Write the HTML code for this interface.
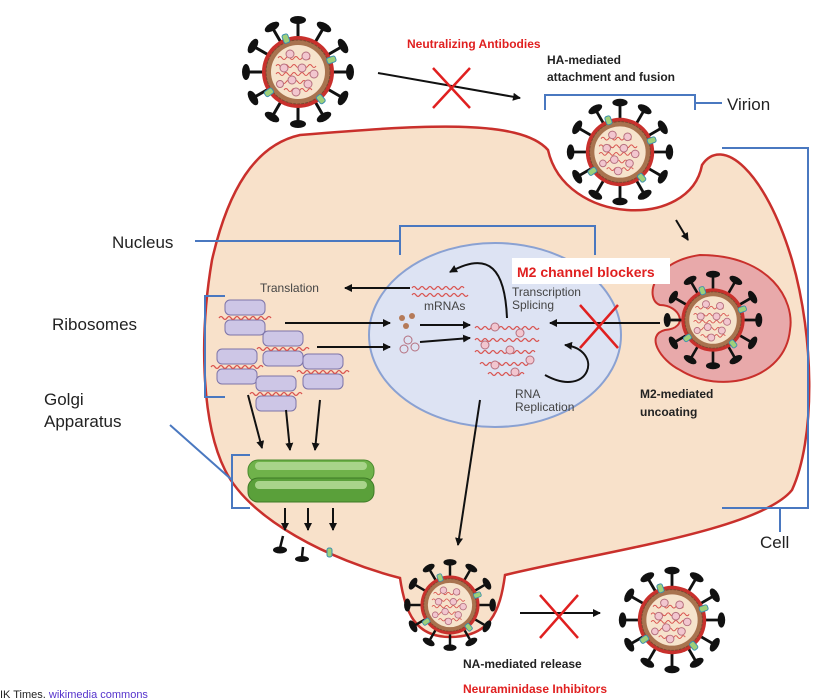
<!DOCTYPE html>
<html><head><style>
body{margin:0;background:#fff;}
svg{display:block;font-family:"Liberation Sans",sans-serif;}
</style></head><body>
<svg width="840" height="698" viewBox="0 0 840 698">
<defs>
<marker id="ah" markerWidth="8" markerHeight="8" refX="7" refY="4" orient="auto" markerUnits="userSpaceOnUse"><path d="M0,0 L8,4 L0,8 Z" fill="#111"/></marker>
<g id="spk">
<line x1="0" y1="-32" x2="0" y2="-51" stroke="#111" stroke-width="3"/>
<ellipse cx="0" cy="-52" rx="8" ry="4" fill="#111"/>
</g>
<g id="core">
<circle r="36" fill="#c9302c"/>
<circle r="32" fill="#a8734f" stroke="#7a4a30" stroke-width="1" stroke-dasharray="3 1"/>
<circle r="27" fill="#f6e3cc"/>
<g fill="none" stroke="#d9534f" stroke-width="1">
<path d="M-20,-14 q2,-3 4,0 t4,0 t4,0 t4,0 t4,0 t4,0 t4,0 t4,0"/>
<path d="M-22,-6 q2,-3 4,0 t4,0 t4,0 t4,0 t4,0 t4,0 t4,0 t4,0 t4,0 t4,0"/>
<path d="M-22,2 q2,-3 4,0 t4,0 t4,0 t4,0 t4,0 t4,0 t4,0 t4,0 t4,0 t4,0"/>
<path d="M-20,10 q2,-3 4,0 t4,0 t4,0 t4,0 t4,0 t4,0 t4,0 t4,0"/>
<path d="M-14,18 q2,-3 4,0 t4,0 t4,0 t4,0 t4,0 t4,0 t4,0"/>
</g>
<g fill="#f2c6cf" stroke="#b5707f" stroke-width="1">
<circle cx="-8" cy="-18" r="4"/><circle cx="8" cy="-16" r="4"/><circle cx="-14" cy="-4" r="4"/>
<circle cx="4" cy="-4" r="4"/><circle cx="16" cy="2" r="4"/><circle cx="-6" cy="8" r="4"/>
<circle cx="10" cy="12" r="4"/><circle cx="-2" cy="20" r="4"/><circle cx="-18" cy="12" r="3.5"/>
</g>
<g fill="#9fd07a" stroke="#3a8fb0" stroke-width="1">
<rect x="-3" y="-40" width="6" height="9" rx="2" transform="rotate(-20)"/>
<rect x="-3" y="-40" width="6" height="9" rx="2" transform="rotate(70)"/>
<rect x="-3" y="-40" width="6" height="9" rx="2" transform="rotate(140)"/>
<rect x="-3" y="-40" width="6" height="9" rx="2" transform="rotate(235)"/>
</g>
</g>
<g id="vir">
<use href="#spk"/>
<use href="#spk" transform="rotate(30)"/>
<use href="#spk" transform="rotate(60)"/>
<use href="#spk" transform="rotate(90)"/>
<use href="#spk" transform="rotate(120)"/>
<use href="#spk" transform="rotate(150)"/>
<use href="#spk" transform="rotate(180)"/>
<use href="#spk" transform="rotate(210)"/>
<use href="#spk" transform="rotate(240)"/>
<use href="#spk" transform="rotate(270)"/>
<use href="#spk" transform="rotate(300)"/>
<use href="#spk" transform="rotate(330)"/>
<use href="#core"/>
</g>
<g id="rib">
<rect x="-20" y="-18" width="40" height="15" rx="5" fill="#cdc6e6" stroke="#7d74a8"/>
<rect x="-20" y="2" width="40" height="15" rx="5" fill="#cdc6e6" stroke="#7d74a8"/>
<path d="M-26,0 q2,-3 4,0 t4,0 t4,0 t4,0 t4,0 t4,0 t4,0 t4,0 t4,0 t4,0 t4,0 t4,0 t4,0" fill="none" stroke="#d9534f" stroke-width="1.3"/>
</g>
</defs>

<!-- cell -->
<path d="M300,135 C420,125 520,118 548,150 C565,225 690,230 702,165 C722,135 765,170 792,260 C815,340 815,440 792,490 C760,530 600,552 505,575 C500,612 490,637 450,637 C415,637 405,612 400,578 C330,560 250,520 225,470 C200,420 200,330 212,260 C228,190 255,145 300,135 Z" fill="#f8e1ca" stroke="#c9302c" stroke-width="2.5"/>

<!-- nucleus -->
<ellipse cx="495" cy="335" rx="126" ry="92" fill="#dde3f3" stroke="#8aa1d2" stroke-width="2"/>

<!-- blue brackets -->
<g stroke="#4a78c0" stroke-width="2" fill="none">
<path d="M545,110 V95 H695 V110"/><path d="M695,103 H722"/>
<path d="M722,148 H808 V508 H722"/><path d="M780,508 V532"/>
<path d="M195,241 H400"/><path d="M400,255 V226 H595 V255"/>
<path d="M225,296 H205 V397 H225"/><path d="M170,425 L232,480"/>
<path d="M250,455 H232 V508 H250"/>
</g>

<!-- virions -->
<use href="#vir" transform="translate(298,72)"/>
<use href="#vir" transform="translate(620,152) scale(0.95)"/>
<!-- uncoating -->
<path d="M700,255 C770,255 795,300 790,330 C785,380 720,395 680,370 C660,360 645,335 665,330 C690,328 680,305 660,305 C645,300 650,262 700,255 Z" fill="#e8a9aa" stroke="#c9302c" stroke-width="2"/>
<use href="#vir" transform="translate(713,320) scale(0.88)"/>
<!-- bud -->
<use href="#vir" transform="translate(450,605) scale(0.82)"/>
<use href="#vir" transform="translate(672,620) scale(0.95)"/>

<!-- ribosomes -->
<use href="#rib" transform="translate(245,318)"/>
<use href="#rib" transform="translate(283,349)"/>
<use href="#rib" transform="translate(237,367)"/>
<use href="#rib" transform="translate(323,372)"/>
<use href="#rib" transform="translate(276,394)"/>

<!-- golgi -->
<rect x="248" y="460" width="126" height="22" rx="10" fill="#6fb24a" stroke="#4a8a2e"/>
<rect x="248" y="478" width="126" height="24" rx="10" fill="#5aa03a" stroke="#3e7a26"/>
<rect x="255" y="462" width="112" height="8" rx="4" fill="#a8d48a"/>
<rect x="255" y="481" width="112" height="8" rx="4" fill="#a8d48a"/>

<!-- arrows -->
<g stroke="#111" stroke-width="2" fill="none" marker-end="url(#ah)">
<path d="M378,73 L520,98"/>
<path d="M676,220 L688,240"/>
<path d="M410,288 L345,288"/>
<path d="M285,323 L390,323"/>
<path d="M317,347 L390,347"/>
<path d="M420,325 L470,325"/>
<path d="M420,342 L470,338"/>
<path d="M660,323 L550,323"/>
<path d="M507,318 C505,270 490,250 450,272"/>
<path d="M545,375 C590,400 605,350 565,345"/>
<path d="M480,400 L458,545"/>
<path d="M248,395 L262,448"/><path d="M286,410 L290,450"/><path d="M320,400 L315,450"/>
<path d="M285,508 L285,530"/><path d="M308,508 L308,530"/><path d="M333,508 L333,530"/>
<path d="M520,613 L600,613"/>
</g>
<!-- exiting spikes -->
<g fill="#111" stroke="#111" stroke-width="2.5"><line x1="283" y1="536" x2="280" y2="548"/><line x1="303" y1="547" x2="302" y2="557"/></g>
<g fill="#111"><ellipse cx="280" cy="550" rx="7" ry="3.5"/><ellipse cx="302" cy="559" rx="7" ry="3"/></g>
<rect x="327" y="548" width="5" height="9" rx="2" fill="#9fd07a" stroke="#3a8fb0"/>

<!-- mRNAs and bits -->
<g fill="none" stroke="#d9534f" stroke-width="1.2">
<path d="M412,288 q2,-3 4,0 t4,0 t4,0 t4,0 t4,0 t4,0 t4,0 t4,0 t4,0 t4,0 t4,0 t4,0 t4,0"/>
<path d="M412,295 q2,-3 4,0 t4,0 t4,0 t4,0 t4,0 t4,0 t4,0 t4,0 t4,0 t4,0 t4,0 t4,0 t4,0 t4,0"/>
<path d="M475,328 q2,-3 4,0 t4,0 t4,0 t4,0 t4,0 t4,0 t4,0 t4,0 t4,0 t4,0 t4,0 t4,0 t4,0 t4,0 t4,0 t4,0"/>
<path d="M475,340 q2,-3 4,0 t4,0 t4,0 t4,0 t4,0 t4,0 t4,0 t4,0 t4,0 t4,0 t4,0 t4,0 t4,0 t4,0 t4,0 t4,0"/>
<path d="M475,352 q2,-3 4,0 t4,0 t4,0 t4,0 t4,0 t4,0 t4,0 t4,0 t4,0 t4,0 t4,0 t4,0 t4,0 t4,0 t4,0"/>
<path d="M480,364 q2,-3 4,0 t4,0 t4,0 t4,0 t4,0 t4,0 t4,0 t4,0 t4,0 t4,0 t4,0 t4,0 t4,0"/>
<path d="M488,374 q2,-3 4,0 t4,0 t4,0 t4,0 t4,0 t4,0 t4,0 t4,0 t4,0"/>
</g>
<g fill="#f2c6cf" stroke="#b5707f"><circle cx="495" cy="327" r="4"/><circle cx="520" cy="333" r="4"/><circle cx="485" cy="345" r="4"/><circle cx="510" cy="350" r="4"/><circle cx="530" cy="360" r="4"/><circle cx="495" cy="365" r="4"/><circle cx="515" cy="372" r="4"/>
<circle cx="408" cy="340" r="4" fill="none"/><circle cx="415" cy="347" r="4" fill="none"/><circle cx="404" cy="349" r="4" fill="none"/></g>
<g fill="#b57a58"><circle cx="402" cy="318" r="3"/><circle cx="412" cy="316" r="3"/><circle cx="406" cy="326" r="3"/></g>

<!-- red X's -->
<g stroke="#e02020" stroke-width="2.5"><path d="M433,68 L470,108 M470,68 L433,108"/><path d="M580,305 L618,348 M618,305 L580,348"/><path d="M540,595 L578,638 M578,595 L540,638"/></g>

<!-- labels -->
<rect x="512" y="258" width="158" height="26" fill="#fff"/>
<g font-weight="bold" font-size="12">
<text x="407" y="48" fill="#e02020">Neutralizing Antibodies</text>
<text x="547" y="64" fill="#222">HA-mediated</text>
<text x="547" y="81" fill="#222">attachment and fusion</text>
<text x="517" y="277" fill="#e02020" font-size="14">M2 channel blockers</text>
<text x="640" y="398" fill="#222">M2-mediated</text>
<text x="640" y="416" fill="#222">uncoating</text>
<text x="463" y="668" fill="#222">NA-mediated release</text>
<text x="463" y="693" fill="#e02020">Neuraminidase Inhibitors</text>
</g>
<g font-size="17" fill="#222">
<text x="727" y="110">Virion</text>
<text x="112" y="248">Nucleus</text>
<text x="52" y="330">Ribosomes</text>
<text x="44" y="405">Golgi</text>
<text x="44" y="427">Apparatus</text>
<text x="760" y="548">Cell</text>
</g>
<g font-size="12" fill="#444">
<text x="260" y="292">Translation</text>
<text x="424" y="310">mRNAs</text>
<text x="512" y="296">Transcription</text>
<text x="512" y="309">Splicing</text>
<text x="515" y="398">RNA</text>
<text x="515" y="411">Replication</text>
</g>
<text x="0" y="698" font-size="11" fill="#222">IK Times, <tspan fill="#5533cc">wikimedia commons</tspan></text>
</svg>
</body></html>
